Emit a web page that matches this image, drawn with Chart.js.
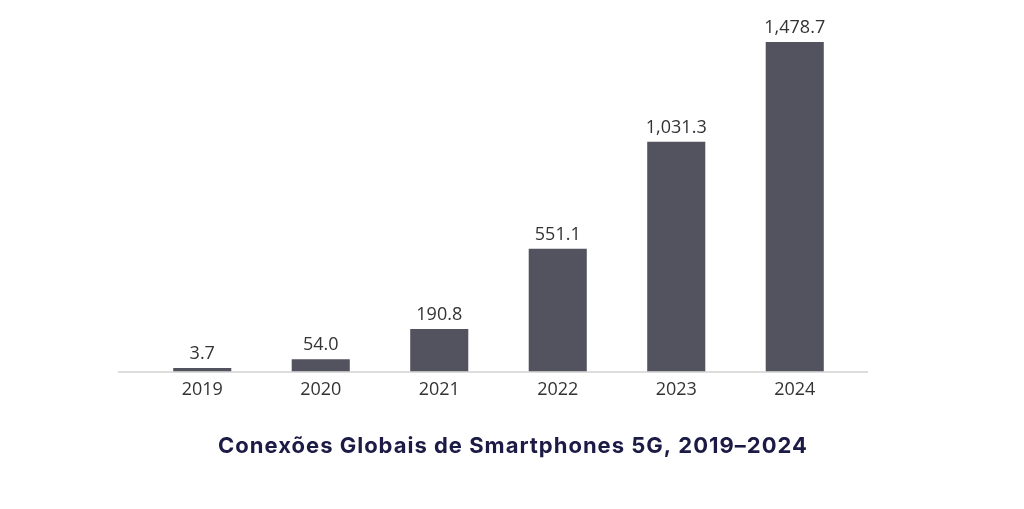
<!DOCTYPE html>
<html>
<head>
<meta charset="utf-8">
<style>
  html, body { margin: 0; padding: 0; background: #ffffff; }
  #wrap { width: 1024px; height: 509px; position: relative; }
</style>
<script src="https://cdn.jsdelivr.net/npm/chart.js@4.4.1/dist/chart.umd.min.js"></script>
</head>
<body>
<div id="wrap"><canvas id="c" width="1024" height="509"></canvas></div>
<script>
const categories = ['2019', '2020', '2021', '2022', '2023', '2024'];
const connections = [3.7, 54.0, 190.8, 551.1, 1031.3, 1478.7];
const titleText = 'Conexões Globais de Smartphones 5G, 2019–2024';

const valueLabels = {
  id: 'valueLabels',
  afterDatasetsDraw(chart) {
    const ctx = chart.ctx;
    const meta = chart.getDatasetMeta(0);
    ctx.save();
    ctx.font = '18px "Open Sans"';
    ctx.fillStyle = '#333333';
    ctx.textAlign = 'center';
    ctx.textBaseline = 'alphabetic';
    meta.data.forEach((bar, i) => {
      const v = connections[i];
      const txt = v.toLocaleString('en-US', { minimumFractionDigits: 1, maximumFractionDigits: 1 });
      ctx.fillText(txt, bar.x, bar.y - 9);
    });
    ctx.restore();
  }
};

const baseLine = {
  id: 'baseLine',
  beforeDatasetsDraw(chart) {
    const { ctx, chartArea } = chart;
    ctx.save();
    ctx.strokeStyle = '#d2d2d2';
    ctx.lineWidth = 1.5;
    ctx.beginPath();
    ctx.moveTo(chartArea.left - 25, chartArea.bottom + 0.5);
    ctx.lineTo(chartArea.right + 14, chartArea.bottom + 0.5);
    ctx.stroke();
    ctx.restore();
  }
};

const bottomTitle = {
  id: 'bottomTitle',
  afterDraw(chart) {
    const ctx = chart.ctx;
    ctx.save();
    ctx.font = '700 22px Inter';
    if ('letterSpacing' in ctx) ctx.letterSpacing = '1px';
    ctx.fillStyle = '#1c1b45';
    ctx.textAlign = 'center';
    ctx.textBaseline = 'middle';
    ctx.fillText(titleText, chart.width / 2 + 1, 446);
    ctx.restore();
  }
};

new Chart(document.getElementById('c'), {
  type: 'bar',
  data: {
    labels: categories,
    datasets: [{
      data: connections,
      backgroundColor: '#53525f',
      borderWidth: 0,
      minBarLength: 3.5,
      barPercentage: 0.49,
      categoryPercentage: 1.0
    }]
  },
  options: {
    responsive: false,
    animation: false,
    devicePixelRatio: 1,
    layout: { padding: { top: 15, left: 143, right: 170, bottom: 100 } },
    plugins: {
      legend: { display: false },
      tooltip: { enabled: false },
      title: { display: false }
    },
    scales: {
      x: {
        grid: { display: false, drawTicks: false },
        border: { display: false },
        ticks: {
          color: '#333333',
          font: { family: 'Open Sans', size: 18 },
          padding: 8
        }
      },
      y: {
        display: false,
        min: 0,
        max: 1600
      }
    }
  },
  plugins: [baseLine, valueLabels, bottomTitle]
});
</script>
</body>
</html>
